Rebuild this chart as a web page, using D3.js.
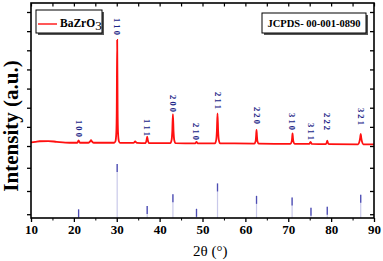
<!DOCTYPE html>
<html>
<head>
<meta charset="utf-8">
<script src="https://cdn.jsdelivr.net/npm/d3@7"></script>
<style>
  body { margin: 0; background: #fff; }
  svg { display: block; font-family: "Liberation Serif", "Times New Roman", serif; }
</style>
</head>
<body>
<div id="container"></div>
<script>
// measured XRD pattern, [2theta, intensity a.u.]
const xrdPoints = [
  [10,319],[11,322],[12,325],[14,326],[16,322],[18,318],[20,317],
  [20.8,317],[21.1,329],[21.4,317],
  [23.4,317],[23.8,324],[24.0,331],[24.2,324],[24.6,317],
  [29.4,317],[29.7,325],[29.9,370],[30.0,490],[30.1,854],[30.2,490],[30.3,370],[30.5,325],[30.8,316],
  [33.9,316],[34.3,324],[34.7,316],
  [36.7,315],[36.95,331],[37.1,349],[37.25,331],[37.5,315],
  [42.5,315],[42.8,332],[42.95,375],[43.1,467],[43.25,375],[43.4,332],[43.7,315],
  [48.3,314],[48.6,322],[48.9,314],
  [52.9,314],[53.2,332],[53.35,377],[53.5,471],[53.65,377],[53.8,332],[54.1,314],
  [62.1,313],[62.4,326],[62.5,352],[62.6,384],[62.7,352],[62.8,326],[63.1,313],
  [70.5,311],[70.8,323],[70.9,342],[71.0,366],[71.1,342],[71.2,323],[71.5,311],
  [74.9,311],[75.2,322],[75.5,311],
  [78.7,310],[79.0,320],[79.1,328],[79.2,320],[79.5,310],
  [86.3,309],[86.6,323],[86.8,347],[86.9,363],[87.0,347],[87.2,323],[87.5,309],
  [90,309]
]

// JCPDS 00-001-0890 reference lines
const refPos = [21.1, 30.1, 37.1, 43.1, 48.6, 53.5, 62.6, 70.9, 75.3, 79.1, 86.9]
const refInt = [16, 100, 22, 44, 17, 64, 41, 38, 19, 21, 43]

// hkl labels: position, text, height where text starts (intensity a.u.)
const hklPos = [21.1, 30.1, 37.1, 43.1, 48.6, 53.5, 62.6, 70.9, 75.2, 79.1, 86.9]
const hklText = ["1 0 0","1 1 0","1 1 1","2 0 0","2 1 0","2 1 1","2 2 0","3 1 0","3 1 1","2 2 2","3 2 1"]
const hklTop = [436, 969, 441, 566, 420, 582, 504, 472, 420, 472, 499]

const xTicks = [10, 20, 30, 40, 50, 60, 70, 80, 90]
const xMinor = [15, 25, 35, 45, 55, 65, 75, 85]
const yTicksXrd = [300, 400, 500, 600, 700, 800, 900, 1000]
const yTicksRef = [7, 50, 93]

const width = 383, height = 261
const m = {left: 31, right: 374, top: 3, bottom: 218}

const svg = d3.create("svg")
  .attr("width", width)
  .attr("height", height)
container.append(svg.node())

const x = d3.scaleLinear().domain([10, 90]).range([m.left, m.right])
const yXrd = d3.scaleLinear().domain([-76, 1047]).range([m.bottom, m.top])
const yRef = d3.scaleLinear().domain([0, 100]).range([m.bottom, 164])

// reference sticks: light body, dark top
const sticks = svg.append("g")
refPos.forEach((p, i) => {
  sticks.append("line")
    .attr("x1", x(p)).attr("x2", x(p))
    .attr("y1", yRef(0)).attr("y2", yRef(refInt[i]))
    .style("stroke", "#c9c9ea").style("stroke-width", 1.2)
  sticks.append("line")
    .attr("x1", x(p)).attr("x2", x(p))
    .attr("y1", Math.min(yRef(refInt[i]) + 8, yRef(0))).attr("y2", yRef(refInt[i]))
    .style("stroke", "#4d4db3").style("stroke-width", 1.3)
})

// pattern
const line = d3.line()
  .x(d => x(d[0]))
  .y(d => yXrd(d[1]))
  .curve(d3.curveMonotoneX)

svg.append("path")
  .datum(xrdPoints)
  .attr("d", line)
  .style("fill", "none")
  .style("stroke", "#ff1010")
  .style("stroke-width", 1.8)

// hkl labels
hklPos.forEach((p, i) => {
  svg.append("text")
    .attr("transform", `translate(${x(p) - 3},${yXrd(hklTop[i])}) rotate(90)`)
    .attr("text-anchor", "start")
    .style("font-size", "8.5px")
    .style("font-weight", "bold")
    .style("fill", "#1c2688")
    .text(hklText[i])
})

// axes
const frame = svg.append("g")
frame.append("rect")
  .attr("x", m.left).attr("y", m.top)
  .attr("width", m.right - m.left).attr("height", m.bottom - m.top)
  .style("fill", "none").style("stroke", "#000").style("stroke-width", 1.6)

const xAxis = svg.append("g")
  .attr("transform", `translate(0,${m.bottom})`)
  .call(d3.axisBottom(x).tickValues(xTicks).tickSize(4).tickPadding(3).tickFormat(d3.format("d")))
xAxis.select(".domain").remove()
xAxis.selectAll(".tick line").style("stroke-width", 1.3)
xAxis.selectAll("text")
  .style("font-size", "13px").style("font-weight", "bold")
  .style("font-family", "Liberation Serif, serif").style("fill", "#000")

const xMin = svg.append("g")
  .attr("transform", `translate(0,${m.bottom})`)
  .call(d3.axisBottom(x).tickValues(xMinor).tickSize(2.5).tickFormat(""))
xMin.select(".domain").remove()

const xTop = svg.append("g")
  .attr("transform", `translate(0,${m.top})`)
  .call(d3.axisBottom(x).tickValues(xTicks.concat(xMinor)).tickSize(3.5).tickFormat(""))
xTop.select(".domain").remove()
xTop.selectAll(".tick line").style("stroke-width", 1.2)

const addY = (scale, vals) => {
  const l = svg.append("g")
    .attr("transform", `translate(${m.left},0)`)
    .call(d3.axisLeft(scale).tickValues(vals).tickSize(4).tickFormat(""))
  l.select(".domain").remove()
  l.selectAll(".tick line").style("stroke-width", 1.3)
  const r = svg.append("g")
    .attr("transform", `translate(${m.right},0)`)
    .call(d3.axisLeft(scale).tickValues(vals).tickSize(4).tickFormat(""))
  r.select(".domain").remove()
  r.selectAll(".tick line").style("stroke-width", 1.3)
}
addY(yXrd, yTicksXrd)
addY(yRef, yTicksRef)

// axis titles
svg.append("text")
  .attr("transform", "translate(18,126) rotate(-90)")
  .attr("text-anchor", "middle")
  .style("font-size", "21px").style("font-weight", "bold")
  .text("Intensity (a.u.)")

svg.append("text")
  .attr("x", 193).attr("y", 256)
  .style("font-size", "15px")
  .text("2θ (°)")

// legend
const leg = svg.append("g")
leg.append("rect").attr("x", 38).attr("y", 12).attr("width", 66).attr("height", 23)
  .style("fill", "#555")
leg.append("rect").attr("x", 36).attr("y", 10).attr("width", 66).attr("height", 23)
  .style("fill", "#fff").style("stroke", "#000").style("stroke-width", 1)
leg.append("line").attr("x1", 38).attr("x2", 57).attr("y1", 24).attr("y2", 24)
  .style("stroke", "#ff1010").style("stroke-width", 1.4)
const lt = leg.append("text").attr("x", 60).attr("y", 27)
  .style("font-size", "11.5px").style("font-weight", "bold")
lt.append("tspan").text("BaZrO")
lt.append("tspan").attr("dy", 3).style("font-size", "13px").style("font-weight", "normal").text("3")

// JCPDS card box
const card = svg.append("g")
card.append("rect").attr("x", 264).attr("y", 15).attr("width", 104).attr("height", 20)
  .style("fill", "#555")
card.append("rect").attr("x", 262).attr("y", 13).attr("width", 104).attr("height", 20)
  .style("fill", "#fff").style("stroke", "#000").style("stroke-width", 1)
card.append("text").attr("x", 314).attr("y", 27)
  .attr("text-anchor", "middle")
  .style("font-size", "10.5px").style("font-weight", "bold")
  .text("JCPDS- 00-001-0890")
</script>
</body>
</html>
